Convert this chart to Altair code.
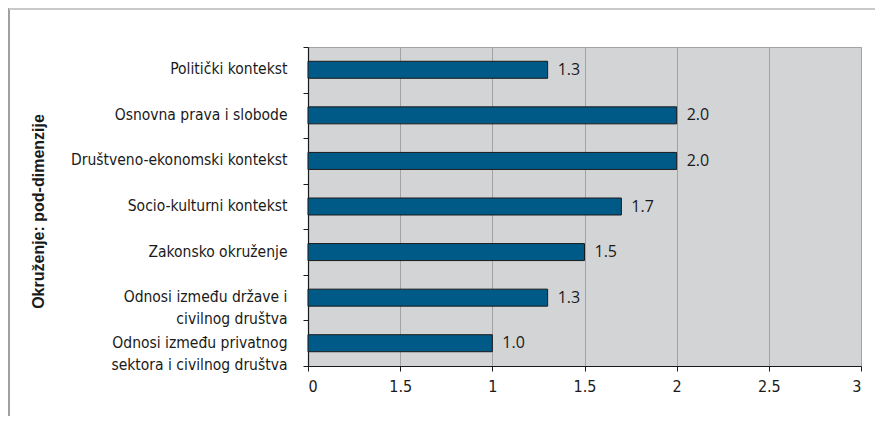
import altair as alt
import pandas as pd

categories = [
    "Politički kontekst",
    "Osnovna prava i slobode",
    "Društveno-ekonomski kontekst",
    "Socio-kulturni kontekst",
    "Zakonsko okruženje",
    "Odnosi između države i\ncivilnog društva",
    "Odnosi između privatnog\nsektora i civilnog društva",
]
values = [1.3, 2.0, 2.0, 1.7, 1.5, 1.3, 1.0]
tick_values = [0, 0.5, 1, 1.5, 2, 2.5, 3]
tick_labels = ["0", "1.5", "1", "1.5", "2", "2.5", "3"]
y_title = "Okruženje: pod-dimenzije"

df = pd.DataFrame({"cat": categories, "val": values})

label_expr = " : ".join(
    [f"datum.value == {v} ? '{l}'" for v, l in zip(tick_values, tick_labels)] + ["datum.label"]
)

NARROW = "DejaVu Sans Condensed"

x_enc = alt.X(
    "val:Q",
    scale=alt.Scale(domain=[0, 3], nice=False),
    axis=alt.Axis(
        values=tick_values,
        labelExpr=label_expr,
        title=None,
        grid=True,
        gridColor="#a3a3a3",
        gridWidth=1,
        domainColor="#1a1a1a",
        domainWidth=1.2,
        tickColor="#1a1a1a",
        tickSize=5,
        labelFont=NARROW,
        labelFontSize=16,
        labelColor="#1a1a1a",
        labelPadding=7,
        labelBaseline="top",
    ),
)
y_enc = alt.Y(
    "cat:N",
    sort=None,
    scale=alt.Scale(paddingInner=0, paddingOuter=0),
    axis=alt.Axis(
        title=y_title,
        titleFont="Liberation Sans",
        titleFontSize=16,
        titleFontWeight="bold",
        titleColor="#1a1a1a",
        titleX=-270,
        titleY=164,
        titleAngle=270,
        titleAlign="center",
        titleBaseline="middle",
        labelExpr="split(datum.label, '\\n')",
        labelFont=NARROW,
        labelFontSize=15.5,
        labelColor="#1a1a1a",
        labelLineHeight=22,
        labelBaseline="top",
        labelOffset=-8,
        labelPadding=16,
        tickBand="extent",
        tickSize=5,
        tickColor="#1a1a1a",
        domainColor="#1a1a1a",
        domainWidth=1.2,
        grid=False,
        labelLimit=400,
    ),
)

bars = alt.Chart(df).mark_bar(
    size=17, color="#005a87", stroke="#1a1a1a", strokeWidth=1
).encode(x=x_enc, y=y_enc)

texts = alt.Chart(df).mark_text(
    align="left", baseline="middle", dx=10, font="Open Sans",
    fontSize=16, color="#1a1a1a"
).encode(x="val:Q", y=alt.Y("cat:N", sort=None), text=alt.Text("val:Q", format=".1f"))

frame_left = alt.Chart(df).mark_rule(color="#a0a0a0", strokeWidth=1.5).encode(
    x=alt.value(-299), y=alt.value(-39), y2=alt.value(400)
)
frame_top = alt.Chart(df).mark_rule(color="#c8c8c8", strokeWidth=1.5).encode(
    x=alt.value(-299), x2=alt.value(600), y=alt.value(-38)
)

chart = alt.layer(frame_left, frame_top, bars, texts).properties(
    width=553,
    height=319,
    autosize=alt.AutoSizeParams(type="none"),
    padding={"left": 300, "top": 39, "right": 14, "bottom": 50},
    background="white",
).configure_view(
    fill="#d3d4d6", stroke="#a3a3a3", strokeWidth=1
)

chart.save("out.html", embed_options={"renderer": "svg", "actions": False})
